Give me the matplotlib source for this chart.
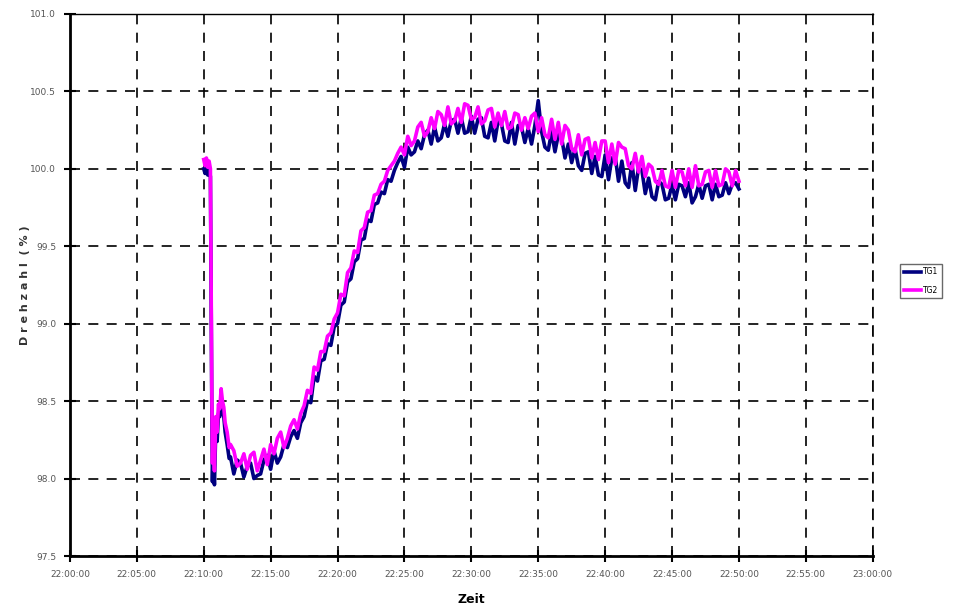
import matplotlib
matplotlib.use("Agg")
import matplotlib.pyplot as plt

# ==============================
# DATA (minutes after 22:00:00)
# ==============================
t_min = [10.0, 10.1, 10.2, 10.3, 10.4, 10.5, 10.55, 10.6, 10.65, 10.7, 10.8,
         10.9, 11.0, 11.1, 11.2, 11.3, 11.4, 11.5, 11.6, 11.75, 11.9, 12.0,
         12.25, 12.5, 12.75, 13.0, 13.25, 13.5, 13.75, 14.0, 14.25, 14.5, 14.75, 15.0,
         15.25, 15.5, 15.75, 16.0, 16.25, 16.5, 16.75, 17.0, 17.25, 17.5, 17.75, 18.0,
         18.25, 18.5, 18.75, 19.0, 19.25, 19.5, 19.75, 20.0, 20.25, 20.5, 20.75, 21.0,
         21.25, 21.5, 21.75, 22.0, 22.25, 22.5, 22.75, 23.0, 23.25, 23.5, 23.75, 24.0,
         24.25, 24.5, 24.75, 25.0, 25.25, 25.5, 25.75, 26.0, 26.25, 26.5, 26.75, 27.0,
         27.25, 27.5, 27.75, 28.0, 28.25, 28.5, 28.75, 29.0, 29.25, 29.5, 29.75, 30.0,
         30.25, 30.5, 30.75, 31.0, 31.25, 31.5, 31.75, 32.0, 32.25, 32.5, 32.75, 33.0,
         33.25, 33.5, 33.75, 34.0, 34.25, 34.5, 34.75, 35.0, 35.25, 35.5, 35.75, 36.0,
         36.25, 36.5, 36.75, 37.0, 37.25, 37.5, 37.75, 38.0, 38.25, 38.5, 38.75, 39.0,
         39.25, 39.5, 39.75, 40.0, 40.25, 40.5, 40.75, 41.0, 41.25, 41.5, 41.75, 42.0,
         42.25, 42.5, 42.75, 43.0, 43.25, 43.5, 43.75, 44.0, 44.25, 44.5, 44.75, 45.0,
         45.25, 45.5, 45.75, 46.0, 46.25, 46.5, 46.75, 47.0, 47.25, 47.5, 47.75, 48.0,
         48.25, 48.5, 48.75, 49.0, 49.25, 49.5, 49.75, 50.0]

tg1 = [100.00, 99.97, 100.02, 99.96, 100.00, 99.95, 99.20, 98.50, 97.98, 98.15, 97.96,
       98.32, 98.24, 98.42, 98.40, 98.52, 98.44, 98.40, 98.30, 98.22, 98.13, 98.14,
       98.03, 98.12, 98.10, 98.01,
       98.08, 98.10, 98.00, 98.02,
       98.03, 98.12, 98.15, 98.06,
       98.18, 98.10, 98.14, 98.22,
       98.20, 98.27, 98.31, 98.26,
       98.36, 98.40, 98.50, 98.49,
       98.66, 98.63, 98.76, 98.77,
       98.87, 98.86, 98.98, 99.00,
       99.12, 99.14, 99.27, 99.29,
       99.40, 99.42, 99.54, 99.55,
       99.67, 99.66, 99.77, 99.78,
       99.85, 99.84, 99.93, 99.92,
       99.99, 100.04, 100.08, 100.01,
       100.14, 100.09, 100.11, 100.18,
       100.13, 100.22, 100.25, 100.16,
       100.27, 100.18, 100.20, 100.29,
       100.21, 100.31, 100.32, 100.23,
       100.33, 100.23, 100.24, 100.34,
       100.23, 100.32, 100.33, 100.21,
       100.20, 100.30, 100.18, 100.31,
       100.29, 100.18, 100.17, 100.30,
       100.16, 100.28, 100.27, 100.17,
       100.26, 100.16, 100.28, 100.44,
       100.24, 100.14, 100.12, 100.24,
       100.11, 100.22, 100.20, 100.07,
       100.16, 100.04, 100.13, 100.02,
       99.99, 100.10, 100.11, 99.97,
       100.08, 99.96, 99.95, 100.09,
       99.93, 100.07, 100.08, 99.92,
       100.05, 99.91, 99.88, 100.04,
       99.86, 100.01, 99.99, 99.84,
       99.94, 99.82, 99.80, 99.92,
       99.90, 99.80, 99.81, 99.90,
       99.80, 99.90, 99.89, 99.82,
       99.91, 99.78, 99.82, 99.90,
       99.81, 99.89, 99.90, 99.80,
       99.90, 99.82, 99.83, 99.91,
       99.84, 99.90, 99.91, 99.87]

tg2 = [100.06, 100.02, 100.07, 100.01, 100.05, 100.00, 99.30, 98.60, 98.10, 98.25, 98.05,
       98.40, 98.30, 98.48, 98.45, 98.58, 98.50, 98.46, 98.36, 98.30, 98.20, 98.22,
       98.18, 98.08, 98.10, 98.16,
       98.06, 98.15, 98.17, 98.05,
       98.12, 98.19, 98.09, 98.22,
       98.16, 98.26, 98.30, 98.20,
       98.26, 98.34, 98.38, 98.32,
       98.42, 98.47, 98.57, 98.55,
       98.72, 98.70, 98.82, 98.82,
       98.92, 98.94, 99.03, 99.07,
       99.19, 99.18, 99.33, 99.36,
       99.47, 99.46, 99.60, 99.62,
       99.72, 99.73, 99.83, 99.84,
       99.90, 99.92, 99.99, 100.02,
       100.05, 100.10, 100.14, 100.09,
       100.21, 100.15, 100.18, 100.27,
       100.30, 100.21, 100.24, 100.33,
       100.26, 100.37, 100.35, 100.28,
       100.40, 100.29, 100.31, 100.39,
       100.30, 100.42, 100.41, 100.32,
       100.33, 100.40, 100.29, 100.31,
       100.38, 100.39, 100.27, 100.36,
       100.28, 100.37, 100.26, 100.27,
       100.36, 100.35, 100.25, 100.33,
       100.26, 100.34, 100.36, 100.24,
       100.33, 100.22, 100.20, 100.32,
       100.19, 100.30, 100.16, 100.28,
       100.25, 100.13, 100.11, 100.22,
       100.09, 100.19, 100.20, 100.07,
       100.17, 100.06, 100.18, 100.18,
       100.04, 100.16, 100.03, 100.17,
       100.14, 100.13, 100.02, 100.00,
       100.10, 99.98, 100.08, 99.95,
       100.03, 100.01, 99.92, 99.90,
       99.99, 99.89, 99.88, 99.99,
       99.88, 99.99, 99.98, 99.89,
       100.00, 99.88, 100.02, 99.89,
       99.90, 99.98, 99.99, 99.88,
       99.99, 99.89, 99.90, 100.00,
       99.98, 99.89, 99.99, 99.92]

x_ticks = [0, 5, 10, 15, 20, 25, 30, 35, 40, 45, 50, 55, 60]
x_labels = ["22:00:00", "22:05:00", "22:10:00", "22:15:00", "22:20:00", "22:25:00",
            "22:30:00", "22:35:00", "22:40:00", "22:45:00", "22:50:00", "22:55:00",
            "23:00:00"]
y_ticks = [97.5, 98.0, 98.5, 99.0, 99.5, 100.0, 100.5, 101.0]

# ==============================
# PLOT
# ==============================
fig = plt.figure(figsize=(9.58, 6.07), dpi=100)
ax = fig.add_axes([0.073, 0.084, 0.838, 0.893])

ax.plot(t_min, tg1, color="#000080", lw=2.6, label="TG1")
ax.plot(t_min, tg2, color="#ff00ff", lw=2.6, label="TG2")

ax.set_xlim(0, 60)
ax.set_ylim(97.5, 101.0)
ax.set_xticks(x_ticks)
ax.set_xticklabels(x_labels)
ax.set_yticks(y_ticks)
ax.set_yticklabels([f"{v:.1f}" for v in y_ticks])
ax.tick_params(direction="inout", length=8, width=1.5, labelsize=6.5,
               labelcolor="#555555", pad=6)

ax.grid(True, color="black", linestyle=(0, (6, 5)), linewidth=1.2)
for s in ["left", "bottom"]:
    ax.spines[s].set_linewidth(2.0)
ax.spines["top"].set_linewidth(1.0)
ax.spines["right"].set_linestyle((0, (6, 5)))
ax.spines["right"].set_linewidth(1.2)

ax.set_xlabel("Zeit", fontsize=9, fontweight="bold", labelpad=10)
ax.set_ylabel("D r e h z a h l  ( % )", fontsize=8, fontweight="bold", labelpad=0,
              color="#333333")

fig.legend(loc="center left", bbox_to_anchor=(900 / 958, 1 - 281 / 607),
           fontsize=5.5, frameon=True, fancybox=False, edgecolor="#444444",
           handlelength=2.2, handletextpad=0.3, borderpad=0.5, borderaxespad=0,
           labelspacing=1.2)

fig.savefig("out.png", dpi=100)
